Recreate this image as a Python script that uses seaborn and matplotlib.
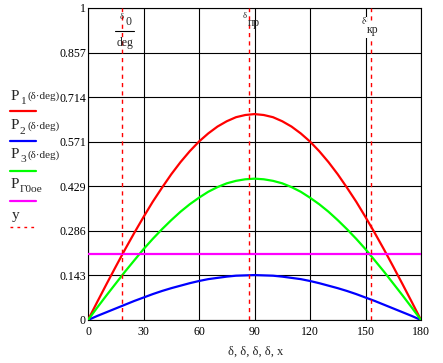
import numpy as np
import pandas as pd
import matplotlib.pyplot as plt
import seaborn as sns

# values
delta = [0, 5, 10, 15, 20, 25, 30, 35, 40, 45, 50, 55, 60, 65, 70, 75, 80, 85, 90,
         95, 100, 105, 110, 115, 120, 125, 130, 135, 140, 145, 150, 155, 160, 165, 170, 175, 180]
p1 = [0, 0.058, 0.115, 0.171, 0.226, 0.279, 0.330, 0.379, 0.424, 0.467, 0.506, 0.541,
      0.572, 0.598, 0.620, 0.637, 0.650, 0.657, 0.660,
      0.657, 0.650, 0.637, 0.620, 0.598, 0.572, 0.541, 0.506, 0.467, 0.424, 0.379,
      0.330, 0.279, 0.226, 0.171, 0.115, 0.058, 0]
p2 = [0, 0.013, 0.025, 0.037, 0.049, 0.061, 0.072, 0.083, 0.093, 0.102, 0.110, 0.118,
      0.125, 0.131, 0.135, 0.139, 0.142, 0.143, 0.144,
      0.143, 0.142, 0.139, 0.135, 0.131, 0.125, 0.118, 0.110, 0.102, 0.093, 0.083,
      0.072, 0.061, 0.049, 0.037, 0.025, 0.013, 0]
p3 = [0, 0.040, 0.079, 0.117, 0.155, 0.191, 0.227, 0.260, 0.291, 0.320, 0.347, 0.371,
      0.392, 0.411, 0.426, 0.438, 0.446, 0.451, 0.453,
      0.451, 0.446, 0.438, 0.426, 0.411, 0.392, 0.371, 0.347, 0.320, 0.291, 0.260,
      0.227, 0.191, 0.155, 0.117, 0.079, 0.040, 0]
p_g0oe = 0.2115
delta_marks = [18.4, 87.2, 152.9]
x_ticks = [0, 30, 60, 90, 120, 150, 180]
y_ticks = [0, 0.143, 0.286, 0.429, 0.571, 0.714, 0.857, 1]
y_tick_labels = ['0', '0.143', '0.286', '0.429', '0.571', '0.714', '0.857', '1']

RED = '#ff0000'
BLUE = '#0000ff'
GREEN = '#00ff00'
MAGENTA = '#ff00ff'

sns.set_style('white')
plt.rcParams['font.family'] = ['Liberation Serif', 'DejaVu Serif']

W, H = 443, 363
fig = plt.figure(figsize=(W / 100, H / 100), dpi=100)
ax = fig.add_axes([88 / W, 1 - 320 / H, (421 - 88) / W, (320 - 8) / H])

df = pd.DataFrame({
    'delta': delta * 3,
    'P': p1 + p2 + p3,
    'curve': ['P1'] * len(delta) + ['P2'] * len(delta) + ['P3'] * len(delta),
})
sns.lineplot(data=df, x='delta', y='P', hue='curve',
             palette={'P1': RED, 'P2': BLUE, 'P3': GREEN},
             estimator=None, sort=False, legend=False, lw=1.6, ax=ax, zorder=3)
ax.axhline(p_g0oe, color=MAGENTA, lw=1.6, zorder=3)
for d in delta_marks:
    ax.axvline(d, color=RED, lw=1.0, dashes=(3, 3), zorder=4)

ax.set_xlim(0, 180)
ax.set_ylim(0, 1)
ax.set_xticks(x_ticks)
ax.set_yticks(y_ticks)
ax.set_yticklabels(y_tick_labels)
ax.grid(True, color='black', lw=0.8)
ax.set_axisbelow(True)
for s in ax.spines.values():
    s.set_color('black')
    s.set_linewidth(0.8)
ax.tick_params(length=0, labelsize=8.6, colors='black')
ax.tick_params(axis='x', pad=4)
ax.tick_params(axis='y', pad=1.5)
ax.set_xlabel('')
ax.set_ylabel('')


def ftext(x, y, s, size, **kw):
    kw.setdefault('ha', 'left')
    kw.setdefault('va', 'center')
    return fig.text(x / W, 1 - y / H, s, fontsize=size, **kw)


# x axis label
ftext(256, 352, 'δ, δ, δ, δ, x', 9, ha='center')

# legend on the left
legend_rows = [
    ('1', '(δ·deg)', RED, 96, 111),
    ('2', '(δ·deg)', BLUE, 126, 141),
    ('3', '(δ·deg)', GREEN, 155, 171),
    ('Γ0oe', '', MAGENTA, 184, 201),
]
for sub, tail, col, ty, ly in legend_rows:
    ftext(11, ty, 'P', 11)
    ftext(20, ty + 5, sub, 8.2)
    if tail:
        ftext(27, ty, tail, 8)
    fig.add_artist(plt.Line2D([10 / W, 36 / W], [1 - ly / H, 1 - ly / H], color=col, lw=1.6))
ftext(12, 216, 'y', 11)
fig.add_artist(plt.Line2D([10 / W, 36 / W], [1 - 227 / H, 1 - 227 / H], color=RED, lw=1.0, dashes=(2, 3)))

# marker labels at the top
ftext(120, 17, 'δ', 6)
ftext(125, 22, '0', 8.5)
fig.add_artist(plt.Line2D([115 / W, 134 / W], [1 - 31 / H, 1 - 31 / H], color='black', lw=0.8))
ftext(125, 43, 'deg', 8.5, ha='center')

ftext(243, 16, 'δ', 6)
ftext(248, 23, 'пр', 8.5)

ftext(362, 22, 'δ', 7, zorder=6,
      bbox=dict(facecolor='white', edgecolor='none', pad=0.5))
ftext(367, 30, 'кр', 8.5, zorder=6,
      bbox=dict(facecolor='white', edgecolor='none', pad=1.5))

fig.savefig('out.png', dpi=100)
